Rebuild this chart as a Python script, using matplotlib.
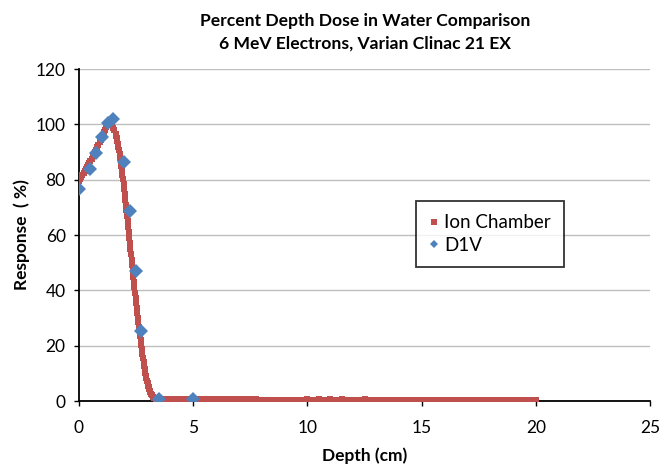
import matplotlib
matplotlib.use("Agg")
import matplotlib.pyplot as plt
from matplotlib.lines import Line2D

# Ion Chamber scan (depth in cm, response in %)
ion_depth = [0.00, 0.05, 0.10, 0.15, 0.20, 0.25, 0.30, 0.35, 0.40, 0.45,
             0.50, 0.55, 0.60, 0.65, 0.70, 0.75, 0.80, 0.85, 0.90, 0.95,
             1.00, 1.05, 1.10, 1.15, 1.20, 1.25, 1.30, 1.35, 1.40, 1.45,
             1.50, 1.55,
             1.600, 1.625, 1.650, 1.675, 1.700, 1.725, 1.750, 1.775,
             1.800, 1.825, 1.850, 1.875, 1.900, 1.925, 1.950, 1.975,
             2.000, 2.025, 2.050, 2.075, 2.100, 2.125, 2.150, 2.175,
             2.200, 2.225, 2.250, 2.275, 2.300, 2.325, 2.350, 2.375,
             2.400, 2.425, 2.450, 2.475, 2.500, 2.525, 2.550, 2.575,
             2.600, 2.625, 2.650, 2.675, 2.700, 2.725, 2.750, 2.775,
             2.800, 2.825, 2.850, 2.875, 2.900, 2.925, 2.950, 2.975,
             3.000, 3.025, 3.050, 3.075, 3.100, 3.125, 3.150, 3.175,
             3.200, 3.25, 3.30, 3.35, 3.40, 3.45,
             3.50, 3.55, 3.60, 3.65, 3.70, 3.75, 3.80, 3.85, 3.90, 3.95,
             4.00, 4.25, 4.50, 4.75, 5.00, 5.25, 5.50, 5.75, 6.00, 6.25,
             6.50, 6.75, 7.00, 7.25, 7.50, 7.75, 8.00, 8.25, 8.50, 8.75,
             9.00, 9.25, 9.50, 9.75, 10.00, 10.25, 10.50, 10.75, 11.00, 11.25,
             11.50, 11.75, 12.00, 12.25, 12.50, 12.75, 13.00, 13.25, 13.50, 13.75,
             14.00, 14.25, 14.50, 14.75, 15.00, 15.25, 15.50, 15.75, 16.00, 16.25,
             16.50, 16.75, 17.00, 17.25, 17.50, 17.75, 18.00, 18.25, 18.50, 18.75,
             19.00, 19.25, 19.50, 19.75, 20.00]
ion_resp = [79.5, 80.2, 81.0, 81.7, 82.4, 83.1, 83.8, 84.5, 85.2, 86.0,
            86.8, 87.6, 88.4, 89.2, 90.0, 90.9, 91.8, 92.7, 93.6, 94.5,
            95.4, 96.3, 97.2, 98.1, 98.9, 99.6, 100.1, 100.3, 100.1, 99.6,
            98.8, 97.8,
            96.5, 95.7, 94.9, 94.0, 93.0, 91.9, 90.7, 89.4,
            88.0, 86.5, 85.0, 83.4, 81.8, 80.1, 78.3, 76.5,
            74.7, 72.8, 70.9, 69.0, 67.0, 65.0, 63.0, 61.0,
            59.0, 57.0, 55.0, 53.0, 51.0, 49.0, 47.0, 45.0,
            43.0, 41.1, 39.2, 37.3, 35.5, 33.7, 31.9, 30.1,
            28.4, 26.7, 25.1, 23.5, 21.9, 20.3, 18.7, 17.1,
            15.6, 14.2, 12.8, 11.5, 10.3, 9.2, 8.2, 7.3,
            6.4, 5.6, 4.9, 4.3, 3.7, 3.2, 2.7, 2.3,
            2.0, 1.5, 1.1, 0.9, 0.8, 0.75,
            0.72, 0.70, 0.70, 0.69, 0.68, 0.68, 0.67, 0.67, 0.66, 0.66,
            0.65, 0.64, 0.63, 0.63, 0.62, 0.61, 0.60, 0.60, 0.59, 0.58,
            0.58, 0.57, 0.56, 0.56, 0.55, 0.55, 0.54, 0.53, 0.53, 0.52,
            0.52, 0.51, 0.54, 0.50, 0.55, 0.49, 0.57, 0.48, 0.55, 0.47,
            0.56, 0.46, 0.52, 0.45, 0.55, 0.44, 0.50, 0.43, 0.47, 0.42,
            0.45, 0.41, 0.40, 0.40, 0.39, 0.38, 0.37, 0.37, 0.36, 0.36,
            0.35, 0.35, 0.34, 0.34, 0.33, 0.33, 0.32, 0.32, 0.31, 0.31,
            0.30, 0.30, 0.30, 0.29, 0.29]

# D1V detector
d1v_depth = [0.00, 0.48, 0.73, 0.99, 1.28, 1.47, 1.98, 2.25, 2.50, 2.73, 3.52, 4.98]
d1v_resp = [76.6, 84.0, 89.5, 95.5, 100.6, 102.0, 86.3, 68.5, 47.0, 25.2, 0.8, 0.8]

title = "Percent Depth Dose in Water Comparison\n6 MeV Electrons, Varian Clinac 21 EX"
x_ticks = [0, 5, 10, 15, 20, 25]
y_ticks = [0, 20, 40, 60, 80, 100, 120]

RED = "#C0504D"
BLUE = "#4F81BD"

plt.rcParams["font.family"] = ["Lato", "DejaVu Sans"]

fig = plt.figure(figsize=(6.64, 4.67), dpi=100)
ax = fig.add_axes([79 / 664, 1 - 401 / 467, (650 - 79) / 664, (401 - 69) / 467])

ax.plot(ion_depth, ion_resp, linestyle="none", marker="s", markersize=4.4,
        color=RED, markeredgewidth=0, zorder=3)
ax.plot(d1v_depth, d1v_resp, linestyle="none", marker="D", markersize=7.0,
        color=BLUE, markeredgewidth=0, zorder=4)

ax.set_xlim(0, 25)
ax.set_ylim(0, 120)
ax.set_xticks(x_ticks)
ax.set_yticks(y_ticks)
ax.tick_params(axis="both", direction="out", length=3.6, width=1, labelsize=12.5,
               colors="black")
ax.tick_params(axis="x", pad=10)
ax.tick_params(axis="y", pad=6)
for s in ["top", "right"]:
    ax.spines[s].set_visible(False)
for s in ["left", "bottom"]:
    ax.spines[s].set_linewidth(1.3)
    ax.spines[s].set_color("black")
ax.yaxis.grid(True, color="#BEBEBE", linewidth=1)
ax.set_axisbelow(True)

ax.set_xlabel("Depth (cm)", fontsize=12.5, fontweight="bold", labelpad=8)
ax.set_ylabel("Response  ( %)", fontsize=12.5, fontweight="bold", labelpad=4)

fig.text(365 / 664, 1 - 32.5 / 467, title, ha="center", va="center",
         fontsize=12.6, fontweight="bold", linespacing=1.5)

handles = [
    Line2D([], [], linestyle="none", marker="s", markersize=4.2, color=RED,
           markeredgewidth=0),
    Line2D([], [], linestyle="none", marker="D", markersize=4.2, color=BLUE,
           markeredgewidth=0),
]
leg = ax.legend(handles, ["Ion Chamber", "D1V"], loc="upper left",
                bbox_to_anchor=((416 - 79) / 571, (401 - 201) / 332),
                fontsize=13.5, frameon=True, fancybox=False, handlelength=0.5,
                handletextpad=0.3, borderpad=0.7, labelspacing=0.3,
                borderaxespad=0)
leg.get_frame().set_edgecolor("black")
leg.get_frame().set_linewidth(1.3)

fig.savefig("out.png", dpi=100)
